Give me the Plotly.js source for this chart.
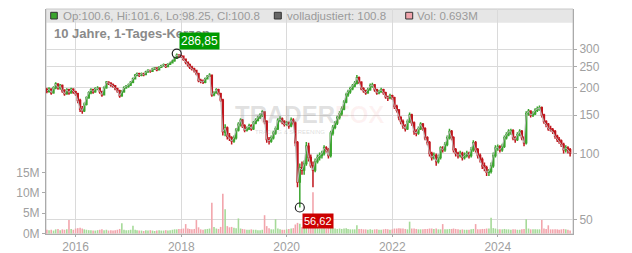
<!DOCTYPE html>
<html><head><meta charset="utf-8">
<script src="https://cdn.plot.ly/plotly-3.0.1.min.js"></script>
<style>body{margin:0;background:#fff}#chart{width:632px;height:253px}</style>
</head><body><div id="chart"></div>
<script>
const dates = [
'2015-06-16','2015-07-01','2015-07-16','2015-08-01','2015-08-16','2015-09-01','2015-09-16','2015-10-01','2015-10-16','2015-11-01','2015-11-16','2015-12-01','2015-12-16',
'2016-01-01','2016-01-16','2016-02-01','2016-02-16','2016-03-01','2016-03-16','2016-04-01','2016-04-16','2016-05-01','2016-05-16','2016-06-01','2016-06-16','2016-07-01','2016-07-16','2016-08-01','2016-08-16','2016-09-01','2016-09-16','2016-10-01','2016-10-16','2016-11-01','2016-11-16','2016-12-01','2016-12-16',
'2017-01-01','2017-01-16','2017-02-01','2017-02-16','2017-03-01','2017-03-16','2017-04-01','2017-04-16','2017-05-01','2017-05-16','2017-06-01','2017-06-16','2017-07-01','2017-07-16','2017-08-01','2017-08-16','2017-09-01','2017-09-16','2017-10-01','2017-10-16','2017-11-01','2017-11-16','2017-12-01','2017-12-16',
'2018-01-01','2018-01-16','2018-02-01','2018-02-16','2018-03-01','2018-03-16','2018-04-01','2018-04-16','2018-05-01','2018-05-16','2018-06-01','2018-06-16','2018-07-01','2018-07-16','2018-08-01','2018-08-16','2018-09-01','2018-09-16','2018-10-01','2018-10-16','2018-11-01','2018-11-16','2018-12-01','2018-12-16',
'2019-01-01','2019-01-16','2019-02-01','2019-02-16','2019-03-01','2019-03-16','2019-04-01','2019-04-16','2019-05-01','2019-05-16','2019-06-01','2019-06-16','2019-07-01','2019-07-16','2019-08-01','2019-08-16','2019-09-01','2019-09-16','2019-10-01','2019-10-16','2019-11-01','2019-11-16','2019-12-01','2019-12-16',
'2020-01-01','2020-01-16','2020-02-01','2020-02-16','2020-03-01','2020-03-16','2020-04-01','2020-04-16','2020-05-01','2020-05-16','2020-06-01','2020-06-16','2020-07-01','2020-07-16','2020-08-01','2020-08-16','2020-09-01','2020-09-16','2020-10-01','2020-10-16','2020-11-01','2020-11-16','2020-12-01','2020-12-16',
'2021-01-01','2021-01-16','2021-02-01','2021-02-16','2021-03-01','2021-03-16','2021-04-01','2021-04-16','2021-05-01','2021-05-16','2021-06-01','2021-06-16','2021-07-01','2021-07-16','2021-08-01','2021-08-16','2021-09-01','2021-09-16','2021-10-01','2021-10-16','2021-11-01','2021-11-16','2021-12-01','2021-12-16',
'2022-01-01','2022-01-16','2022-02-01','2022-02-16','2022-03-01','2022-03-16','2022-04-01','2022-04-16','2022-05-01','2022-05-16','2022-06-01','2022-06-16','2022-07-01','2022-07-16','2022-08-01','2022-08-16','2022-09-01','2022-09-16','2022-10-01','2022-10-16','2022-11-01','2022-11-16','2022-12-01','2022-12-16',
'2023-01-01','2023-01-16','2023-02-01','2023-02-16','2023-03-01','2023-03-16','2023-04-01','2023-04-16','2023-05-01','2023-05-16','2023-06-01','2023-06-16','2023-07-01','2023-07-16','2023-08-01','2023-08-16','2023-09-01','2023-09-16','2023-10-01','2023-10-16','2023-11-01','2023-11-16','2023-12-01','2023-12-16',
'2024-01-01','2024-01-16','2024-02-01','2024-02-16','2024-03-01','2024-03-16','2024-04-01','2024-04-16','2024-05-01','2024-05-16','2024-06-01','2024-06-16','2024-07-01','2024-07-16','2024-08-01','2024-08-16','2024-09-01','2024-09-16','2024-10-01','2024-10-16','2024-11-01','2024-11-16','2024-12-01','2024-12-16',
'2025-01-01','2025-01-16','2025-02-01','2025-02-16','2025-03-01','2025-03-16','2025-04-01','2025-04-16','2025-05-01','2025-05-16'
];
const open = [
196,193,197,190,200,208,200,205,194,188,196,190,197,
192,188,175,160,157,168,180,190,196,192,198,199,192,186,200,212,210,206,204,198,194,184,192,200,
203,206,212,220,228,232,228,232,230,236,240,238,244,246,242,248,252,255,250,256,260,266,274,282,
280,279,270,262,255,248,244,240,232,216,214,212,220,226,228,186,190,196,188,176,125,131,120,118,
114,118,128,136,142,134,128,130,134,130,138,142,146,150,155,140,116,114,118,124,130,142,144,140,
136,138,134,142,138,112,74,86,84,90,108,96,88,84,92,96,98,100,106,104,98,124,132,138,
146,152,160,172,186,192,198,204,210,222,212,198,194,190,196,204,206,196,190,192,196,190,182,180,
184,180,164,158,146,140,134,130,140,150,138,126,124,130,136,130,118,112,100,96,98,92,96,106,
104,110,118,126,118,104,100,98,100,96,98,100,98,104,112,104,98,94,88,86,82,83,88,98,
106,107,104,108,118,122,126,127,118,116,122,126,118,112,152,156,150,152,158,160,162,150,140,136,
130,128,126,120,116,114,110,104,106,104
];
const high = [
200,201,199,203,212,210,208,207,197,199,198,200,199,
194,190,178,165,171,183,193,199,198,201,203,201,194,203,215,214,212,209,206,200,196,195,203,206,
209,215,223,231,235,234,235,234,239,243,242,247,249,248,251,255,258,257,259,263,269,277,286.85,285,
284,281,272,264,258,252,247,242,234,220,218,223,229,233,229,193,199,198,190,178,136,133,124,120,
121,131,139,145,144,136,133,137,136,141,145,149,153,158,156,142,119,121,127,133,145,148,146,142,
141,140,146,145,140,114,90,92,93,113,112,99,92,95,99,101,103,109,108,106,127,135,141,149,
156,164,176,190,196,202,208,215,229,225,214,201,196,200,209,211,208,198,196,200,198,192,184,188,
186,182,167,160,148,143,136,143,154,152,140,129,133,139,138,132,120,114,102,101,100,99,108,108,
113,121,130,128,120,106,102,103,102,101,103,102,107,115,114,106,100,96,91,88,85,91,101,109,
110,109,111,121,125,129,130,129,120,125,129,128,120,156,160,158,156,161,164,166,164,152,142,138,
134,131,128,122,119,116,112,109,108,106
];
const low = [
189,190,186,188,197,196,196,190,184,186,186,188,188,
184,170,155,152,155,166,178,187,188,190,195,188,182,185,198,206,202,200,195,190,180,182,190,198,
200,204,210,218,226,224,226,226,228,234,234,236,241,238,240,246,250,246,248,254,258,263,271,275,
274,266,256,250,244,240,235,228,212,210,208,210,218,224,182,183,188,185,172,121,120,116,114,110,
112,116,126,133,131,125,126,128,127,128,136,140,144,147,136,112,110,112,116,122,128,139,136,133,
134,130,132,135,108,70,56.62,80,80,88,92,86,70,82,90,93,95,98,101,95,96,121,129,135,
143,149,158,170,182,188,195,201,207,208,195,190,186,188,194,200,192,186,187,190,186,178,174,177,
176,160,154,142,136,130,126,128,138,134,122,120,122,128,127,115,109,97,93,94,88,90,94,101,
102,108,116,115,101,97,95,96,93,94,96,95,96,102,101,95,91,85,83,79,79,81,86,96,
103,101,102,106,116,120,122,115,112,114,120,115,108,110,149,146,147,150,155,157,146,137,132,127,
126,123,117,113,111,107,100,101,100,97
];
const close = [
193,197,190,200,208,200,205,194,188,196,190,197,192,
188,175,160,157,168,180,190,196,192,198,199,192,186,200,212,210,206,204,198,194,184,192,200,203,
206,212,220,228,232,228,232,230,236,240,238,244,246,242,248,252,255,250,256,260,266,274,282,280,
279,270,262,255,248,244,240,232,216,214,212,220,226,228,186,190,196,188,176,126,131,120,118,114,
118,128,136,142,134,128,130,134,130,138,142,146,150,155,140,116,114,118,124,130,142,144,140,136,
138,134,142,138,112,74,86,84,90,108,96,88,84,92,96,98,100,106,104,98,124,132,138,146,
152,160,172,186,192,198,204,210,222,212,198,194,190,196,204,206,196,190,192,196,190,182,180,184,
180,164,158,146,140,134,130,140,150,138,126,124,130,136,130,118,112,100,96,98,92,96,106,104,
110,118,126,118,104,100,98,100,96,98,100,98,104,112,104,98,94,88,86,82,83,88,98,106,
107,104,108,118,122,126,127,118,116,122,126,118,112,152,156,150,152,158,160,162,150,140,136,130,
128,126,120,116,114,110,104,106,104,100.8
];
const volM = [
0.9,0.8,0.9,0.7,1.0,1.1,0.8,1.0,0.9,1.0,3.3,1.1,0.9,
1.2,1.3,1.4,1.2,1.0,0.9,0.8,0.8,0.7,0.7,0.8,0.9,1.0,0.8,0.9,0.7,0.8,0.7,0.8,0.9,1.1,2.5,0.9,0.8,
0.8,0.9,1.9,0.9,0.8,0.7,0.7,0.6,0.8,0.7,0.8,0.7,0.6,0.7,0.8,0.7,0.7,0.8,0.7,0.8,0.9,1.0,1.0,1.1,
1.1,1.2,2.3,1.2,1.1,1.0,1.1,3.3,1.5,1.0,0.9,1.0,1.1,1.2,7.6,1.6,1.2,1.1,1.6,9.8,6.0,1.8,1.5,1.6,
1.4,1.3,3.7,1.2,1.1,1.0,0.9,0.9,1.0,0.9,0.9,0.8,0.8,0.9,4.5,1.8,1.3,1.0,1.0,3.5,1.2,1.0,0.9,0.9,
1.0,1.1,1.2,1.3,2.2,2.6,2.4,1.6,1.5,1.8,1.6,1.5,10.2,1.6,1.3,1.2,1.2,1.3,1.2,1.3,2.0,1.4,1.2,1.1,
1.2,1.1,1.2,1.3,1.1,1.0,1.0,1.0,2.0,1.1,1.1,1.0,1.0,0.9,1.0,0.9,1.0,1.0,0.9,0.9,1.0,1.1,1.0,0.9,
1.0,1.2,1.2,1.3,1.2,1.2,1.1,1.0,2.9,1.2,1.2,1.1,1.0,1.0,1.0,1.1,1.1,1.2,1.2,1.1,1.2,1.0,1.0,2.3,
1.0,1.0,1.1,1.1,1.2,1.1,1.0,0.9,1.0,0.9,0.9,0.9,1.0,1.1,2.3,1.0,1.0,1.1,1.1,1.2,1.2,3.9,1.3,1.2,
1.0,1.0,1.0,1.1,1.0,1.0,0.9,1.0,1.0,0.9,0.9,1.0,1.1,3.5,1.2,1.0,1.0,1.0,1.0,1.0,3.3,1.2,1.1,2.0,
1.0,1.0,1.0,1.0,0.9,1.0,1.1,1.0,0.9,0.693
];
const yearTicks = ['2016-01-01','2018-01-01','2020-01-01','2022-01-01','2024-01-01'];
const yearLabels = ['2016','2018','2020','2022','2024'];
const priceTicks = [50,100,150,200,250,300];
const volTicks = [0,5,10,15];
const volLabels = ['0M','5M','10M','15M'];
const chartTitle = '10 Jahre, 1-Tages-Kerzen';
const legendOHLC = 'Op:100.6, Hi:101.6, Lo:98.25, Cl:100.8';
const legendAdj = 'volladjustiert: 100.8';
const legendVol = 'Vol: 0.693M';

const FONT = 'Liberation Sans, Arial, sans-serif';
const UP = '#3aa52e', DOWN = '#c0161d';
const volColors = close.map((c,i)=> c >= open[i] ? 'rgb(165,218,152)' : 'rgb(242,165,172)');

let iMax = 0, iMin = 0;
high.forEach((v,i)=>{ if (v > high[iMax]) iMax = i; });
low.forEach((v,i)=>{ if (v < low[iMin]) iMin = i; });
const fmt = v => v.toFixed(2).replace('.', ',');

const traces = [
  {type:'bar', x:dates, y:volM, yaxis:'y', marker:{color:volColors, line:{width:0}}, hoverinfo:'skip'},
  {type:'scatter', mode:'lines', x:dates, y:close, yaxis:'y2', line:{color:'#b8b8b8', width:1}, hoverinfo:'skip'},
  {type:'candlestick', x:dates, open:open, high:high, low:low, close:close, yaxis:'y2',
   increasing:{line:{color:UP, width:1.5}, fillcolor:UP},
   decreasing:{line:{color:DOWN, width:1.5}, fillcolor:DOWN}, whiskerwidth:0},
  {type:'scatter', mode:'markers', x:[dates[iMax], dates[iMin]], y:[high[iMax], low[iMin]], yaxis:'y2',
   marker:{symbol:'circle-open', size:9, color:'#222', line:{width:1.2, color:'#222'}}, hoverinfo:'skip'}
];

const W = 527, H = 225;
const px = x => (x - 46) / W;
const py = y => 1 - (y - 9) / H;

const layout = {
  width:632, height:253,
  margin:{l:46, r:59, t:9, b:19, pad:0},
  paper_bgcolor:'#ffffff', plot_bgcolor:'rgba(0,0,0,0)',
  showlegend:false, bargap:0.15,
  font:{family:FONT, color:'#999'},
  xaxis:{type:'date', range:['2015-06-10','2025-06-05'], rangeslider:{visible:false},
    tickvals:yearTicks, ticktext:yearLabels, showgrid:true, gridcolor:'#dadada', gridwidth:1,
    showline:true, linecolor:'#aaa', linewidth:1, ticks:'outside', ticklen:2, tickcolor:'#aaa',
    tickfont:{family:FONT, size:12, color:'#a0a0a0'}, zeroline:false, fixedrange:true},
  yaxis:{range:[-0.15, 55.5], tickvals:volTicks, ticktext:volLabels, side:'left', showgrid:false,
    zeroline:false, showline:true, linecolor:'#aaa', ticks:'outside', ticklen:3, tickcolor:'#aaa',
    tickfont:{family:FONT, size:12, color:'#a0a0a0'}},
  yaxis2:{type:'log', overlaying:'y', side:'right', range:[1.6317, 2.6615],
    tickvals:priceTicks, ticktext:priceTicks.map(String), showgrid:true, gridcolor:'#dadada',
    zeroline:false, showline:true, linecolor:'#aaa', ticks:'outside', ticklen:3, tickcolor:'#aaa',
    tickfont:{family:FONT, size:12, color:'#a0a0a0'}},
  shapes:[
    {type:'rect', xref:'paper', yref:'paper', x0:0, x1:1, y0:py(22.7), y1:1, fillcolor:'#e6e6e6', line:{width:0}, layer:'below'},
    {type:'rect', xref:'paper', yref:'paper', x0:0, x1:1, y0:0, y1:1, fillcolor:'rgba(0,0,0,0)', line:{color:'#c8c8c8', width:1}, layer:'below'},
    {type:'rect', xref:'paper', yref:'paper', x0:px(50.7), x1:px(57.3), y0:py(19), y1:py(12.3), fillcolor:'#3aa52e', line:{color:'#333', width:1}},
    {type:'rect', xref:'paper', yref:'paper', x0:px(274.3), x1:px(281.3), y0:py(19), y1:py(12.3), fillcolor:'#666', line:{color:'#333', width:1}},
    {type:'rect', xref:'paper', yref:'paper', x0:px(405.7), x1:px(412.7), y0:py(19), y1:py(12.3), fillcolor:'#f0a4ac', line:{color:'#333', width:1}}
  ],
  annotations:[
    {xref:'paper', yref:'paper', x:px(61.3), y:py(15.8), xanchor:'left', yanchor:'middle', showarrow:false,
     text:legendOHLC, font:{family:FONT, size:11.5, color:'#9a9a9a'}},
    {xref:'paper', yref:'paper', x:px(285), y:py(15.8), xanchor:'left', yanchor:'middle', showarrow:false,
     text:legendAdj, font:{family:FONT, size:11.5, color:'#9a9a9a'}},
    {xref:'paper', yref:'paper', x:px(414.7), y:py(15.8), xanchor:'left', yanchor:'middle', showarrow:false,
     text:legendVol, font:{family:FONT, size:11.5, color:'#9a9a9a'}},
    {xref:'paper', yref:'paper', x:px(52.3), y:py(33), xanchor:'left', yanchor:'middle', showarrow:false,
     text:'<b>'+chartTitle+'</b>', font:{family:FONT, size:13, color:'#8a8a8a'}},
    {xref:'paper', yref:'paper', x:px(309), y:py(115), xanchor:'center', yanchor:'middle', showarrow:false,
     text:'<b>TRADER<span style="color:rgba(235,110,110,0.3)">FOX</span></b>', font:{family:FONT, size:24, color:'rgba(150,150,150,0.3)'}},
    {xref:'paper', yref:'paper', x:px(290), y:py(132), xanchor:'center', yanchor:'middle', showarrow:false,
     text:'TRADING &amp; SCREENING', font:{family:FONT, size:6, color:'rgba(150,150,150,0.35)'}},
    {xref:'x', yref:'y2', x:dates[iMax], y:Math.log10(high[iMax]), xanchor:'left', yanchor:'bottom',
     xshift:2, yshift:4, showarrow:false, text:fmt(high[iMax]), bgcolor:'#009a00', borderpad:1,
     font:{family:FONT, size:12, color:'#ffffff'}},
    {xref:'x', yref:'y2', x:dates[iMin], y:Math.log10(low[iMin]), xanchor:'left', yanchor:'top',
     xshift:2, yshift:-5, showarrow:false, text:fmt(low[iMin]), bgcolor:'#cc0000', borderpad:1,
     font:{family:FONT, size:11, color:'#ffffff'}}
  ]
};

Plotly.newPlot('chart', traces, layout, {staticPlot:true, displayModeBar:false});
</script>
</body></html>
